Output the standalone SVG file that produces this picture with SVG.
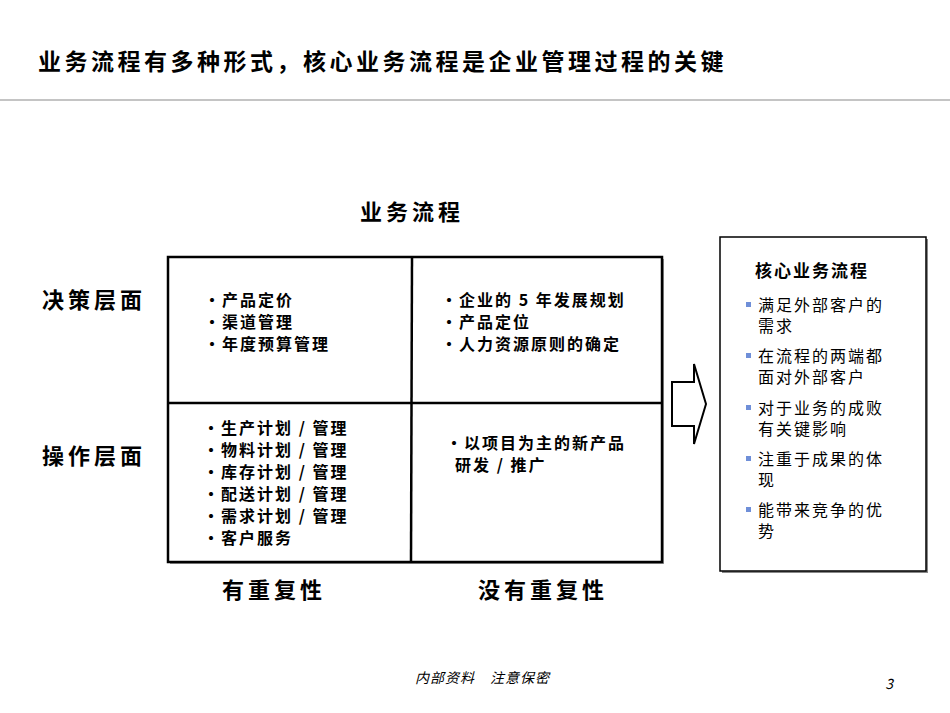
<svg xmlns="http://www.w3.org/2000/svg" width="950" height="713" viewBox="0 0 950 713">
<style>
text{font-family:"Noto Sans CJK SC","Noto Sans",sans-serif;fill:#000}
.b{font-weight:bold}
.c{font-size:16px;font-weight:bold;letter-spacing:2px}
.r{font-size:16px;letter-spacing:2px}
.h{font-size:22px;font-weight:bold;letter-spacing:4px}
.sq{fill:#6f8fd8}
</style>
<rect width="950" height="713" fill="#fff"/>
<text x="38" y="70" class="b" font-size="23" letter-spacing="3.5">业务流程有多种形式，核心业务流程是企业管理过程的关键</text>
<line x1="0" y1="100" x2="950" y2="100" stroke="#b0b0b0" stroke-width="1.5"/>
<text x="360" y="220" class="h">业务流程</text>
<text x="42" y="308" class="h">决策层面</text>
<text x="42" y="464" class="h">操作层面</text>
<text x="222" y="598" class="h">有重复性</text>
<text x="478" y="598" class="h">没有重复性</text>
<g id="grid">
<rect x="170" y="259" width="494" height="305" fill="#999"/>
<rect x="168" y="257" width="494" height="305" fill="#fff" stroke="#000" stroke-width="2.5"/>
<line x1="412" y1="257" x2="411" y2="562" stroke="#000" stroke-width="2.5"/>
<line x1="168" y1="403" x2="662" y2="403" stroke="#000" stroke-width="2.5"/>
</g>
<g id="q1"><text class="c"><tspan x="204" y="306">•产品定价</tspan><tspan x="204" y="328">•渠道管理</tspan><tspan x="204" y="350">•年度预算管理</tspan></text></g>
<g id="q2"><text class="c"><tspan x="441" y="306">•企业的 5 年发展规划</tspan><tspan x="441" y="328">•产品定位</tspan><tspan x="441" y="350">•人力资源原则的确定</tspan></text></g>
<g id="q3"><text class="c"><tspan x="203" y="434">•生产计划 / 管理</tspan><tspan x="203" y="456">•物料计划 / 管理</tspan><tspan x="203" y="478">•库存计划 / 管理</tspan><tspan x="203" y="500">•配送计划 / 管理</tspan><tspan x="203" y="522">•需求计划 / 管理</tspan><tspan x="203" y="544">•客户服务</tspan></text></g>
<g id="q4"><text class="c"><tspan x="446" y="449">•以项目为主的新产品</tspan><tspan x="455" y="471">研发 / 推广</tspan></text></g>
<g id="connectors">
<polygon points="672,382 694,382 694,364 706,404 694,444 694,426 672,426" fill="#fff" stroke="#000" stroke-width="2"/>
</g>
<g id="core">
<rect x="722" y="239" width="206" height="334" fill="#888"/>
<rect x="720" y="237" width="206" height="334" fill="#fff" stroke="#000" stroke-width="1.5"/>
<text x="755" y="277" class="b" font-size="17" letter-spacing="2">核心业务流程</text>
<rect class="sq" x="746" y="302" width="5" height="5"/><text class="r" x="758" y="311">满足外部客户的</text><text class="r" x="758" y="332">需求</text>
<rect class="sq" x="746" y="353" width="5" height="5"/><text class="r" x="758" y="362">在流程的两端都</text><text class="r" x="758" y="383">面对外部客户</text>
<rect class="sq" x="746" y="405" width="5" height="5"/><text class="r" x="758" y="414">对于业务的成败</text><text class="r" x="758" y="435">有关键影响</text>
<rect class="sq" x="746" y="456" width="5" height="5"/><text class="r" x="758" y="465">注重于成果的体</text><text class="r" x="758" y="486">现</text>
<rect class="sq" x="746" y="507" width="5" height="5"/><text class="r" x="758" y="516">能带来竞争的优</text><text class="r" x="758" y="537">势</text>
</g>
<text x="415" y="683" font-size="14" font-style="italic" letter-spacing="1" fill="#333">内部资料　注意保密</text>
<text x="893" y="689" font-size="14" font-style="italic" text-anchor="end">3</text>
</svg>
